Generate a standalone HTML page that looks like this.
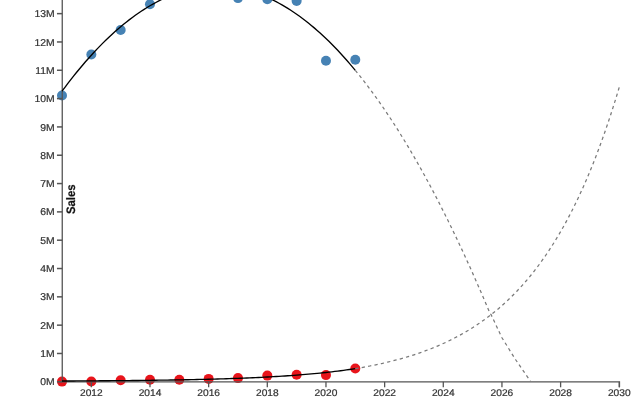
<!DOCTYPE html>
<html><head><meta charset="utf-8"><style>
html,body{margin:0;padding:0;background:#fff;width:640px;height:400px;overflow:hidden}
svg{display:block;will-change:transform;text-rendering:geometricPrecision;font-family:"Liberation Sans",sans-serif}
</style></head><body>
<svg width="640" height="400" viewBox="0 0 640 400"><circle cx="62.00" cy="95.5" r="5" fill="#4682b4"/><circle cx="91.33" cy="54.5" r="5" fill="#4682b4"/><circle cx="120.66" cy="30" r="5" fill="#4682b4"/><circle cx="149.99" cy="4.3" r="5" fill="#4682b4"/><circle cx="237.98" cy="-1.9" r="5" fill="#4682b4"/><circle cx="267.31" cy="-0.8" r="5" fill="#4682b4"/><circle cx="296.64" cy="0.9" r="5" fill="#4682b4"/><circle cx="325.97" cy="60.8" r="5" fill="#4682b4"/><circle cx="355.30" cy="59.8" r="5" fill="#4682b4"/><circle cx="62.00" cy="381.6" r="5" fill="#e8141b"/><circle cx="91.33" cy="381.5" r="5" fill="#e8141b"/><circle cx="120.66" cy="380.25" r="5" fill="#e8141b"/><circle cx="149.99" cy="379.7" r="5" fill="#e8141b"/><circle cx="179.32" cy="379.7" r="5" fill="#e8141b"/><circle cx="208.65" cy="378.9" r="5" fill="#e8141b"/><circle cx="237.98" cy="378.1" r="5" fill="#e8141b"/><circle cx="267.31" cy="375.6" r="5" fill="#e8141b"/><circle cx="296.64" cy="374.7" r="5" fill="#e8141b"/><circle cx="325.97" cy="375.1" r="5" fill="#e8141b"/><circle cx="355.30" cy="368.5" r="5" fill="#e8141b"/><g font-family="Liberation Sans, sans-serif" font-size="10" fill="#333" stroke="#333" stroke-width="0.22"><path d="M62.25,-10V381.8H619.47V387.3" fill="none" stroke="#555" stroke-width="1.3"/><line x1="56.95" y1="381.80" x2="62.25" y2="381.80" stroke="#555" stroke-width="1.5"/><text transform="translate(54.65,385.40) scale(1.04,1.0)" text-anchor="end">0M</text><line x1="56.95" y1="353.48" x2="62.25" y2="353.48" stroke="#555" stroke-width="1.5"/><text transform="translate(54.65,357.08) scale(1.04,1.0)" text-anchor="end">1M</text><line x1="56.95" y1="325.16" x2="62.25" y2="325.16" stroke="#555" stroke-width="1.5"/><text transform="translate(54.65,328.76) scale(1.04,1.0)" text-anchor="end">2M</text><line x1="56.95" y1="296.84" x2="62.25" y2="296.84" stroke="#555" stroke-width="1.5"/><text transform="translate(54.65,300.44) scale(1.04,1.0)" text-anchor="end">3M</text><line x1="56.95" y1="268.52" x2="62.25" y2="268.52" stroke="#555" stroke-width="1.5"/><text transform="translate(54.65,272.12) scale(1.04,1.0)" text-anchor="end">4M</text><line x1="56.95" y1="240.20" x2="62.25" y2="240.20" stroke="#555" stroke-width="1.5"/><text transform="translate(54.65,243.80) scale(1.04,1.0)" text-anchor="end">5M</text><line x1="56.95" y1="211.88" x2="62.25" y2="211.88" stroke="#555" stroke-width="1.5"/><text transform="translate(54.65,215.48) scale(1.04,1.0)" text-anchor="end">6M</text><line x1="56.95" y1="183.56" x2="62.25" y2="183.56" stroke="#555" stroke-width="1.5"/><text transform="translate(54.65,187.16) scale(1.04,1.0)" text-anchor="end">7M</text><line x1="56.95" y1="155.24" x2="62.25" y2="155.24" stroke="#555" stroke-width="1.5"/><text transform="translate(54.65,158.84) scale(1.04,1.0)" text-anchor="end">8M</text><line x1="56.95" y1="126.92" x2="62.25" y2="126.92" stroke="#555" stroke-width="1.5"/><text transform="translate(54.65,130.52) scale(1.04,1.0)" text-anchor="end">9M</text><line x1="56.95" y1="98.60" x2="62.25" y2="98.60" stroke="#555" stroke-width="1.5"/><text transform="translate(54.65,102.20) scale(1.04,1.0)" text-anchor="end">10M</text><line x1="56.95" y1="70.28" x2="62.25" y2="70.28" stroke="#555" stroke-width="1.5"/><text transform="translate(54.65,73.88) scale(1.04,1.0)" text-anchor="end">11M</text><line x1="56.95" y1="41.96" x2="62.25" y2="41.96" stroke="#555" stroke-width="1.5"/><text transform="translate(54.65,45.56) scale(1.04,1.0)" text-anchor="end">12M</text><line x1="56.95" y1="13.64" x2="62.25" y2="13.64" stroke="#555" stroke-width="1.5"/><text transform="translate(54.65,17.24) scale(1.04,1.0)" text-anchor="end">13M</text><line x1="91.33" y1="381.8" x2="91.33" y2="387.3" stroke="#555" stroke-width="1.3"/><text transform="translate(91.33,396.1) scale(1.02,0.97)" text-anchor="middle">2012</text><line x1="149.99" y1="381.8" x2="149.99" y2="387.3" stroke="#555" stroke-width="1.3"/><text transform="translate(149.99,396.1) scale(1.02,0.97)" text-anchor="middle">2014</text><line x1="208.65" y1="381.8" x2="208.65" y2="387.3" stroke="#555" stroke-width="1.3"/><text transform="translate(208.65,396.1) scale(1.02,0.97)" text-anchor="middle">2016</text><line x1="267.31" y1="381.8" x2="267.31" y2="387.3" stroke="#555" stroke-width="1.3"/><text transform="translate(267.31,396.1) scale(1.02,0.97)" text-anchor="middle">2018</text><line x1="325.97" y1="381.8" x2="325.97" y2="387.3" stroke="#555" stroke-width="1.3"/><text transform="translate(325.97,396.1) scale(1.02,0.97)" text-anchor="middle">2020</text><line x1="384.63" y1="381.8" x2="384.63" y2="387.3" stroke="#555" stroke-width="1.3"/><text transform="translate(384.63,396.1) scale(1.02,0.97)" text-anchor="middle">2022</text><line x1="443.29" y1="381.8" x2="443.29" y2="387.3" stroke="#555" stroke-width="1.3"/><text transform="translate(443.29,396.1) scale(1.02,0.97)" text-anchor="middle">2024</text><line x1="501.95" y1="381.8" x2="501.95" y2="387.3" stroke="#555" stroke-width="1.3"/><text transform="translate(501.95,396.1) scale(1.02,0.97)" text-anchor="middle">2026</text><line x1="560.61" y1="381.8" x2="560.61" y2="387.3" stroke="#555" stroke-width="1.3"/><text transform="translate(560.61,396.1) scale(1.02,0.97)" text-anchor="middle">2028</text><line x1="619.27" y1="381.8" x2="619.27" y2="387.3" stroke="#555" stroke-width="1.3"/><text transform="translate(619.27,396.1) scale(1.02,0.97)" text-anchor="middle">2030</text><text transform="translate(74.6,199.3) rotate(-90) scale(1.03,1.12)" text-anchor="middle" font-weight="bold" font-size="11" fill="#111">Sales</text></g><path d="M62.00,91.22L64.93,87.28L67.87,83.41L70.80,79.62L73.73,75.90L76.66,72.27L79.60,68.70L82.53,65.21L85.46,61.80L88.40,58.46L91.33,55.20L94.26,52.01L97.20,48.90L100.13,45.86L103.06,42.90L106.00,40.02L108.93,37.21L111.86,34.47L114.79,31.81L117.73,29.23L120.66,26.72L123.59,24.29L126.53,21.93L129.46,19.65L132.39,17.44L135.32,15.31L138.26,13.26L141.19,11.27L144.12,9.37L147.06,7.54L149.99,5.79L152.92,4.11L155.86,2.50L158.79,0.97L161.72,-0.48L164.66,-1.86L167.59,-3.16L170.52,-4.38L173.45,-5.54L176.39,-6.61L179.32,-7.61L182.25,-8.54L185.19,-9.39L188.12,-10.16L191.05,-10.86L193.98,-11.48L196.92,-12.03L199.85,-12.50L202.78,-12.90L205.72,-13.22L208.65,-13.47L211.58,-13.64L214.52,-13.74L217.45,-13.76L220.38,-13.70L223.31,-13.57L226.25,-13.36L229.18,-13.08L232.11,-12.73L235.05,-12.29L237.98,-11.79L240.91,-11.20L243.85,-10.54L246.78,-9.81L249.71,-9.00L252.64,-8.12L255.58,-7.16L258.51,-6.12L261.44,-5.01L264.38,-3.82L267.31,-2.56L270.24,-1.23L273.18,0.19L276.11,1.67L279.04,3.24L281.98,4.88L284.91,6.59L287.84,8.38L290.77,10.25L293.71,12.19L296.64,14.20L299.57,16.29L302.51,18.46L305.44,20.70L308.37,23.02L311.30,25.41L314.24,27.88L317.17,30.42L320.10,33.04L323.04,35.73L325.97,38.50L328.90,41.35L331.84,44.27L334.77,47.27L337.70,50.34L340.63,53.48L343.57,56.71L346.50,60.00L349.43,63.38L352.37,66.82L355.30,70.35" fill="none" stroke="#000" stroke-width="1.35"/><path d="M62.00,381.00L64.93,380.99L67.87,380.97L70.80,380.96L73.73,380.95L76.66,380.93L79.60,380.92L82.53,380.90L85.46,380.88L88.40,380.87L91.33,380.85L94.26,380.83L97.20,380.81L100.13,380.79L103.06,380.77L106.00,380.75L108.93,380.73L111.86,380.70L114.79,380.68L117.73,380.66L120.66,380.63L123.59,380.60L126.53,380.58L129.46,380.55L132.39,380.52L135.32,380.49L138.26,380.46L141.19,380.42L144.12,380.39L147.06,380.36L149.99,380.32L152.92,380.28L155.86,380.24L158.79,380.20L161.72,380.16L164.66,380.12L167.59,380.07L170.52,380.02L173.45,379.98L176.39,379.93L179.32,379.87L182.25,379.82L185.19,379.76L188.12,379.71L191.05,379.65L193.98,379.58L196.92,379.52L199.85,379.45L202.78,379.38L205.72,379.31L208.65,379.24L211.58,379.16L214.52,379.08L217.45,379.00L220.38,378.91L223.31,378.82L226.25,378.73L229.18,378.63L232.11,378.53L235.05,378.43L237.98,378.32L240.91,378.21L243.85,378.10L246.78,377.98L249.71,377.85L252.64,377.73L255.58,377.59L258.51,377.46L261.44,377.31L264.38,377.17L267.31,377.01L270.24,376.86L273.18,376.69L276.11,376.52L279.04,376.34L281.98,376.16L284.91,375.97L287.84,375.77L290.77,375.57L293.71,375.36L296.64,375.14L299.57,374.91L302.51,374.68L305.44,374.43L308.37,374.18L311.30,373.92L314.24,373.65L317.17,373.37L320.10,373.07L323.04,372.77L325.97,372.46L328.90,372.13L331.84,371.80L334.77,371.45L337.70,371.08L340.63,370.71L343.57,370.32L346.50,369.92L349.43,369.50L352.37,369.06L355.30,368.62" fill="none" stroke="#000" stroke-width="1.35"/><path d="M355.30,70.35L358.23,73.95L361.17,77.62L364.10,81.37L367.03,85.20L369.96,89.10L372.90,93.07L375.83,97.12L378.76,101.25L381.70,105.45L384.63,109.73L387.56,114.08L390.50,118.51L393.43,123.02L396.36,127.60L399.29,132.25L402.23,136.98L405.16,141.79L408.09,146.67L411.03,151.62L413.96,156.65L416.89,161.76L419.83,166.94L422.76,172.20L425.69,177.54L428.62,182.94L431.56,188.43L434.49,193.99L437.42,199.62L440.36,205.33L443.29,211.12L446.22,216.98L449.16,222.92L452.09,228.93L455.02,235.01L457.95,241.18L460.89,247.42L463.82,253.73L466.75,260.12L469.69,266.58L472.62,273.12L475.55,279.74L478.49,286.43L481.42,293.19L484.35,300.03L487.28,306.95L490.22,313.94L491.00,314.40L501.80,337.50L515.50,359.50L530.50,381.30" fill="none" stroke="#7a7a7a" stroke-width="1.25" stroke-dasharray="3.25,3.25"/><path d="M355.30,368.65L358.23,368.15L361.17,367.64L364.10,367.11L367.03,366.56L369.96,366.00L372.90,365.41L375.83,364.81L378.76,364.18L381.70,363.53L384.63,362.86L387.56,362.17L390.50,361.46L393.43,360.72L396.36,359.95L399.29,359.16L402.23,358.34L405.16,357.50L408.09,356.62L411.03,355.72L413.96,354.78L416.89,353.81L419.83,352.81L422.76,351.78L425.69,350.71L428.62,349.60L431.56,348.46L434.49,347.27L437.42,346.05L440.36,344.79L443.29,343.48L446.22,342.13L449.16,340.73L452.09,339.28L455.02,337.79L457.95,336.24L460.89,334.64L463.82,332.99L466.75,331.28L469.69,329.51L472.62,327.69L475.55,325.80L478.49,323.84L481.42,321.82L484.35,319.73L487.28,317.57L490.22,315.34L493.15,313.02L496.08,310.64L499.02,308.17L501.95,305.61L504.88,302.97L507.82,300.24L510.75,297.41L513.68,294.49L516.62,291.47L519.55,288.35L522.48,285.12L525.41,281.78L528.35,278.33L531.28,274.76L534.21,271.07L537.15,267.25L540.08,263.30L543.01,259.22L545.94,255.00L548.88,250.63L551.81,246.12L554.74,241.45L557.68,236.63L560.61,231.64L563.54,226.48L566.48,221.14L569.41,215.62L572.34,209.92L575.27,204.02L578.21,197.92L581.14,191.61L584.07,185.09L587.01,178.34L589.94,171.37L592.87,164.16L595.81,156.70L598.74,148.99L601.67,141.01L604.61,132.77L607.54,124.24L610.47,115.42L613.40,106.31L616.34,96.88L619.27,87.13" fill="none" stroke="#7a7a7a" stroke-width="1.25" stroke-dasharray="3.25,3.25"/></svg>
</body></html>
